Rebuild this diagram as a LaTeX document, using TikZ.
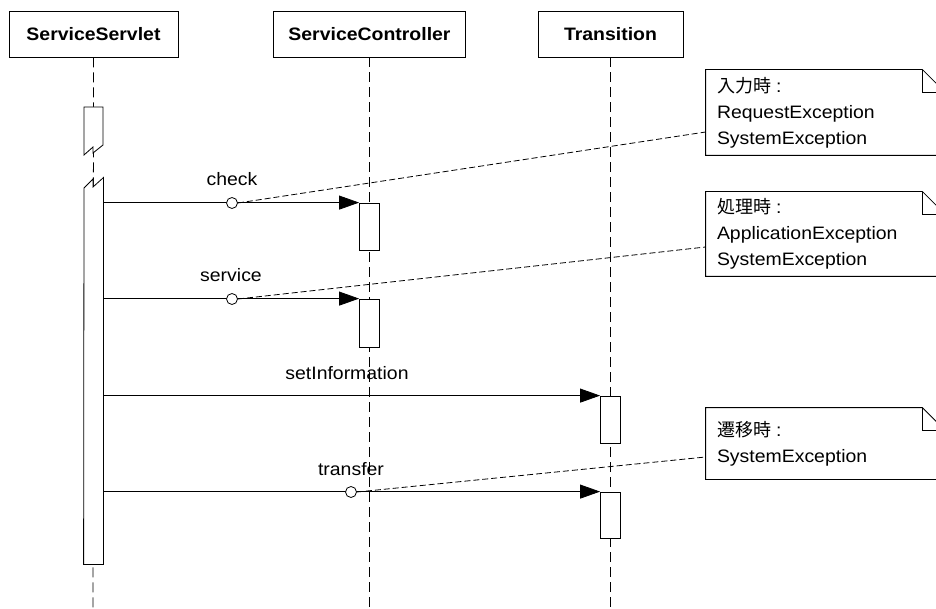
\documentclass[tikz,border=0pt]{standalone}
\usepackage{fontspec}
\setmainfont{Liberation Sans}[FakeStretch=1.08]
\newfontfamily\jp{Noto Sans CJK JP}
\usetikzlibrary{arrows.meta}
\newcommand{\jpcolon}{\hspace{5pt}:}
\begin{document}
\begin{tikzpicture}[x=1pt,y=-1pt, line width=0.8pt,
  every node/.style={font=\fontsize{18}{26}\selectfont},
  hdr/.style={draw, fill=white, font=\fontsize{18}{26}\selectfont\bfseries, minimum height=46, inner sep=0},
  act/.style={draw, fill=white, minimum width=20, inner sep=0},
  life/.style={dash pattern=on 10pt off 5pt},
  msg/.style={-{Triangle[length=20pt,width=14pt]}},
  ball/.style={circle, draw, fill=white, minimum size=11, inner sep=0},
  notebox/.style={minimum width=239, inner sep=0},
  notetext/.style={align=left, anchor=west, inner sep=0},
  link/.style={dash pattern=on 6pt off 3pt},
  lbl/.style={anchor=base, inner sep=0}]
\useasboundingbox (0,0) rectangle (936,609);
\clip (0,0) rectangle (936,609);
\fill[white] (0,0) rectangle (936,609);

% headers
\node[hdr, minimum width=169] (ss) at (93.5,34) {ServiceServlet};
\node[hdr, minimum width=192] (sc) at (369.5,34) {ServiceController};
\node[hdr, minimum width=145] (tr) at (610.5,34) {Transition};

% lifeline ends
\coordinate (ssend) at (93,609);
\coordinate (scend) at (369.5,609);
\coordinate (trend) at (610.5,609);
\draw[life] (ss.south) -- (ssend);
\draw[life] (sc.south) -- (scend);
\draw[life] (tr.south) -- (trend);

% servlet activation (broken)
\draw[fill=white] (84,155) -- (84,107) -- (103,107) -- (103,145) -- (93,153) -- (93,147) -- cycle;
\node[draw=none, minimum width=19, minimum height=386, inner sep=0] (ssact) at (93.5,371) {};
\draw[fill=white] (ssact.north east) -- (ssact.south east) -- (ssact.south west) -- (84,188) -- (93,179) -- (93,187) -- cycle;

% activations
\node[act, minimum height=47] (ca1) at (369.5,226.5) {};
\node[act, minimum height=48] (ca2) at (369.5,323) {};
\node[act, minimum height=47] (ta1) at (610.5,419.5) {};
\node[act, minimum height=46] (ta2) at (610.5,515) {};

% messages
\draw[msg] (ssact.east |- ca1.north) -- (ca1.north west);
\draw[msg] (ssact.east |- ca2.north) -- (ca2.north west);
\draw[msg] (ssact.east |- ta1.north) -- (ta1.north west);
\draw[msg] (ssact.east |- ta2.north) -- (ta2.north west);

% labels
\node[lbl] (l1) at (232,186) {check};
\node[lbl] (l2) at (231,282) {service};
\node[lbl] (l3) at (347,379) {setInformation};
\node[lbl] (l4) at (351,475) {transfer};

% notes
\node[notebox, minimum height=85] (n1) at (825.5,112.5) {};
\node[notebox, minimum height=84] (n2) at (825.5,234) {};
\node[notebox, minimum height=71] (n3) at (825.5,443.5) {};
\coordinate (e1) at ([yshift=-19.5]n1.west);
\coordinate (e2) at ([yshift=-13]n2.west);
\coordinate (e3) at ([yshift=-13.5]n3.west);

% ball points
\node[ball] (b1) at (232,203) {};
\node[ball] (b2) at (232,299) {};
\node[ball] (b3) at (351,492) {};
\draw[link] (b1.east) -- (e1);
\draw[link] (b2.east) -- (e2);
\draw[link] (b3.east) -- (e3);

\foreach \n in {n1,n2,n3}{
  \draw[fill=white] (\n.north west) -- ([xshift=-23]\n.north east) -- ([yshift=-23]\n.north east) -- (\n.south east) -- (\n.south west) -- cycle;
  \draw ([xshift=-23]\n.north east) |- ([yshift=-23]\n.north east);
}
\node[notetext] (t1) at ([xshift=11]n1.west) {{\jp 入力時}\jpcolon\\RequestException\\SystemException};
\node[notetext] (t2) at ([xshift=11]n2.west) {{\jp 処理時}\jpcolon\\ApplicationException\\SystemException};
\node[notetext] (t3) at ([xshift=11]n3.west) {{\jp 遷移時}\jpcolon\\SystemException};
\end{tikzpicture}
\end{document}
